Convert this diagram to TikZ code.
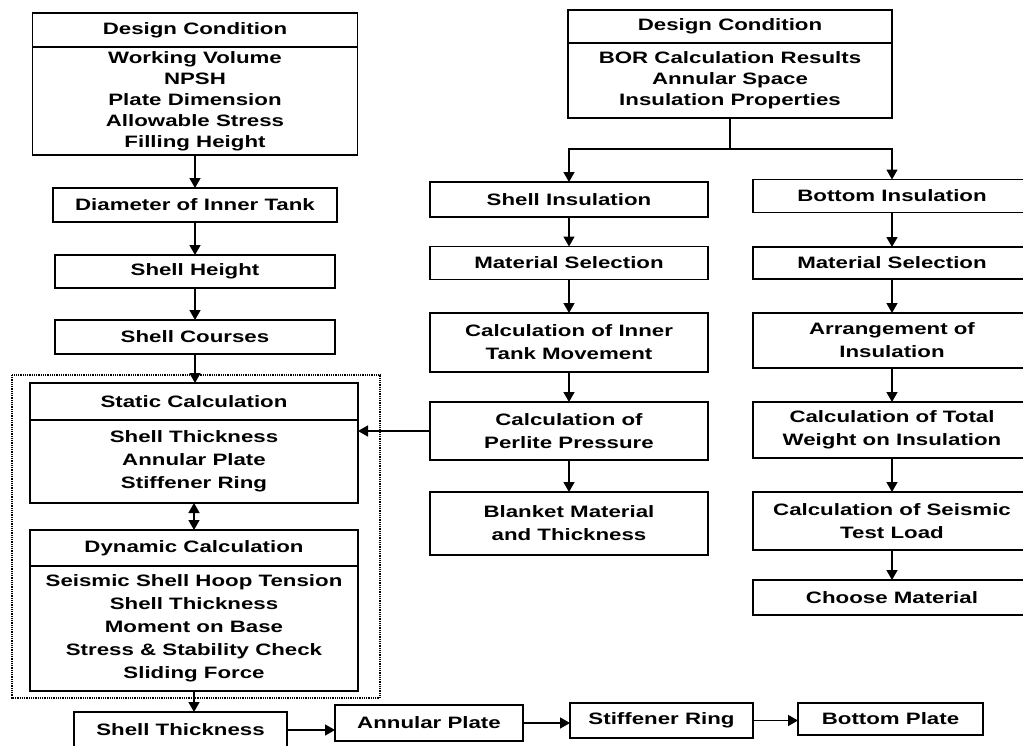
\documentclass[tikz,border=0pt]{standalone}
\usepackage{fontspec}
\setmainfont{Liberation Sans}[FakeStretch=1.35]
\usetikzlibrary{arrows.meta,positioning}

\begin{document}
\begin{tikzpicture}[x=1pt,y=-1pt,
	bx/.style={draw, line width=1.5pt, outer sep=0pt, inner sep=1pt, align=center,
		font=\bfseries\fontsize{16.5}{21}\selectfont},
	wide/.style={font=\bfseries\fontsize{16.5}{23}\selectfont},
	arr/.style={line width=1.5pt, -{Triangle[length=10pt,width=11pt]}},
	dblarr/.style={line width=1.5pt, {Triangle[length=10pt,width=11pt]}-{Triangle[length=10pt,width=11pt]}},
	dotbox/.style={line width=1.2pt, dash pattern=on 1pt off 0.8pt}]
	\useasboundingbox (0,0) rectangle (1023,745);

	% left column
	\node[bx, minimum width=325, minimum height=34, anchor=north] (dcL) at (195,13) {Design Condition};
	\node[bx, minimum width=325, minimum height=108, below=0pt of dcL] (dcLb) {Working Volume\\NPSH\\Plate Dimension\\Allowable Stress\\Filling Height};
	\node[bx, minimum width=284, minimum height=34] (dia) at (195,205) {Diameter of Inner Tank};
	\node[bx, minimum width=280, minimum height=33] (shh) at (195,271.5) {Shell Height};
	\node[bx, minimum width=280, minimum height=34] (shc) at (195,337) {Shell Courses};

	\draw[dotbox] (12,375) rectangle (380,698);
	\node[bx, minimum width=328, minimum height=37, anchor=north] (stat) at (194,383) {Static Calculation};
	\node[bx, wide, minimum width=328, minimum height=83, below=0pt of stat] (statb) {Shell Thickness\\Annular Plate\\Stiffener Ring};
	\node[bx, minimum width=328, minimum height=36, anchor=north] (dyn) at (194,530) {Dynamic Calculation};
	\node[bx, wide, minimum width=328, minimum height=125, below=0pt of dyn] (dynb) {Seismic Shell Hoop Tension\\Shell Thickness\\Moment on Base\\Stress \& Stability Check\\Sliding Force};

	% bottom row
	\node[bx, minimum width=213, minimum height=36] (sth) at (180.5,730) {Shell Thickness};
	\node[bx, minimum width=188, minimum height=36] (ann) at (429,723) {Annular Plate};
	\node[bx, minimum width=183, minimum height=35] (stf) at (661.5,720.5) {Stiffener Ring};
	\node[bx, minimum width=185, minimum height=32] (bot) at (890.5,719) {Bottom Plate};

	% right part
	\node[bx, minimum width=324, minimum height=33, anchor=north] (dcR) at (730,10) {Design Condition};
	\node[bx, minimum width=324, minimum height=75, below=0pt of dcR] (dcRb) {BOR Calculation Results\\Annular Space\\Insulation Properties};
	\coordinate (jn) at (730,149);

	\node[bx, minimum width=278, minimum height=35] (shi) at (569,199.5) {Shell Insulation};
	\node[bx, minimum width=278, minimum height=33] (msl) at (569,263) {Material Selection};
	\node[bx, wide, minimum width=278, minimum height=59] (itm) at (569,342.5) {Calculation of Inner\\Tank Movement};
	\node[bx, wide, minimum width=278, minimum height=58] (perl) at (569,431) {Calculation of\\Perlite Pressure};
	\node[bx, wide, minimum width=278, minimum height=63] (blm) at (569,523.5) {Blanket Material\\and Thickness};

	\node[bx, minimum width=278, minimum height=33] (boti) at (892,196) {Bottom Insulation};
	\node[bx, minimum width=278, minimum height=32] (msr) at (892,263) {Material Selection};
	\node[bx, wide, minimum width=278, minimum height=55] (arng) at (892,340.5) {Arrangement of\\Insulation};
	\node[bx, wide, minimum width=278, minimum height=56] (twt) at (892,430) {Calculation of Total\\Weight on Insulation};
	\node[bx, wide, minimum width=278, minimum height=58] (seis) at (892,521) {Calculation of Seismic\\Test Load};
	\node[bx, minimum width=278, minimum height=35] (chm) at (892,597.5) {Choose Material};

	\draw[arr] (dcLb.south) -- (dia.north);
	\draw[arr] (dia.south) -- (shh.north);
	\draw[arr] (shh.south) -- (shc.north);
	\draw[arr] (shc.south) -- (shc.south |- stat.north);
	\draw[dblarr] (statb.south) -- (dyn.north);
	\draw[arr] (dynb.south) -- (dynb.south |- sth.north);
	\draw[arr] (sth.east) -- (sth.east -| ann.west);
	\draw[arr] (ann.east) -- (ann.east -| stf.west);
	\draw[arr] (stf.east) -- (stf.east -| bot.west);

	\draw[line width=1.5pt] (dcRb.south) -- (jn);
	\draw[arr] (jn) -| (shi.north);
	\draw[arr] (jn) -| (boti.north);
	\draw[arr] (shi) -- (msl);
	\draw[arr] (msl) -- (itm);
	\draw[arr] (itm) -- (perl);
	\draw[arr] (perl) -- (blm);
	\draw[arr] (perl.west) -- (perl.west -| statb.east);
	\draw[arr] (boti) -- (msr);
	\draw[arr] (msr) -- (arng);
	\draw[arr] (arng) -- (twt);
	\draw[arr] (twt) -- (seis);
	\draw[arr] (seis) -- (chm);
\end{tikzpicture}
\end{document}
